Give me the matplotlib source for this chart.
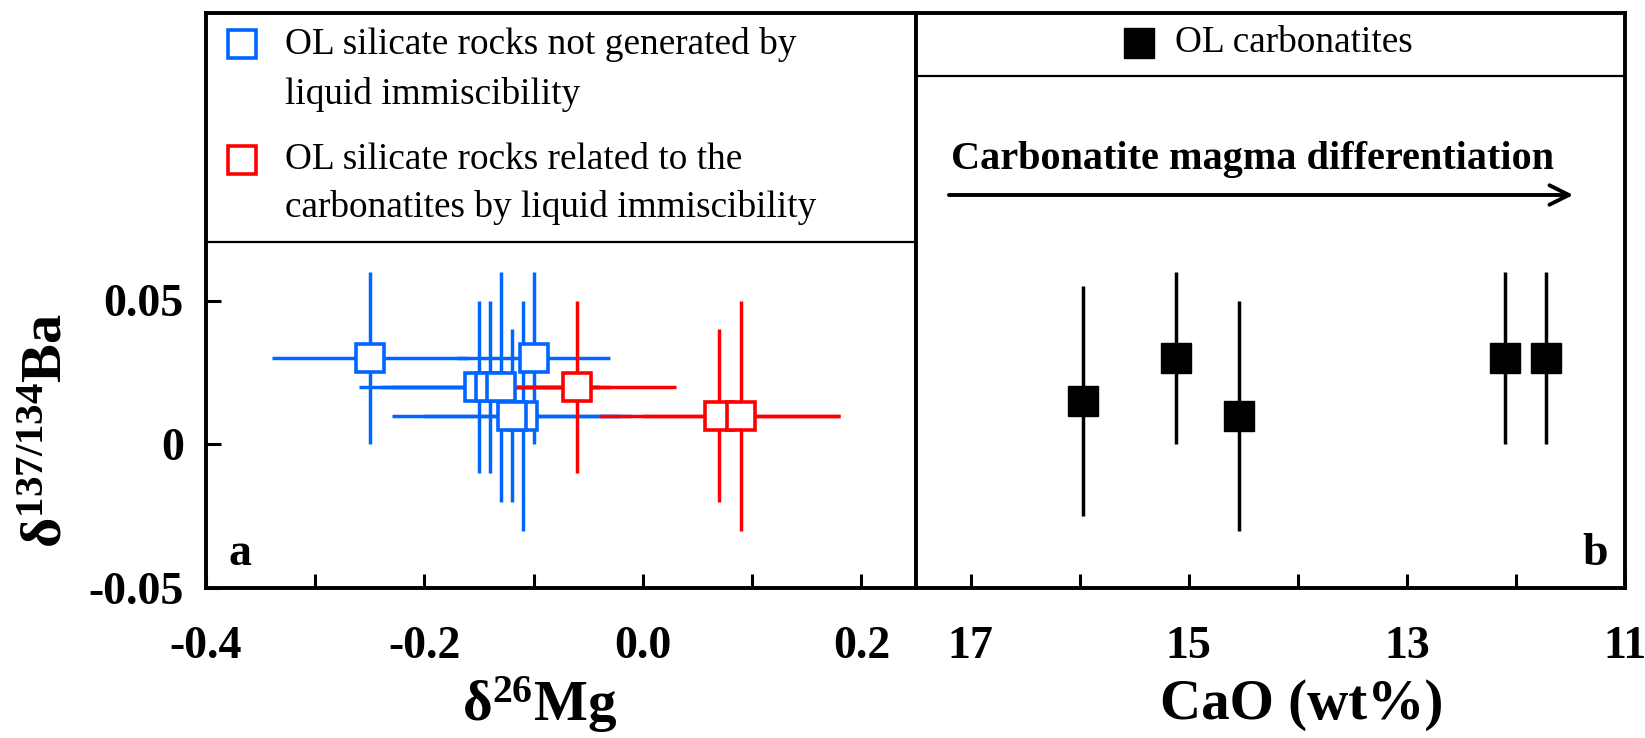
import matplotlib
matplotlib.use('Agg')
import matplotlib.pyplot as plt

plt.rcParams['font.family'] = 'serif'
plt.rcParams['font.serif'] = ['Liberation Serif', 'DejaVu Serif']
plt.rcParams['mathtext.fontset'] = 'custom'
plt.rcParams['mathtext.rm'] = 'Liberation Serif:bold'
plt.rcParams['mathtext.it'] = 'Liberation Serif:bold'
plt.rcParams['mathtext.bf'] = 'Liberation Serif:bold'
plt.rcParams['axes.unicode_minus'] = False

# ---- data ----
# panel a: silicate rocks, d26Mg vs d137/134Ba
blue_x = [-0.25, -0.10, -0.15, -0.14, -0.13, -0.11, -0.12]
blue_y = [0.03, 0.03, 0.02, 0.02, 0.02, 0.01, 0.01]
blue_xerr = [0.09, 0.07, 0.11, 0.10, 0.10, 0.09, 0.11]
blue_yerr = [0.03, 0.03, 0.03, 0.03, 0.04, 0.04, 0.03]

red_x = [-0.06, 0.07, 0.09]
red_y = [0.02, 0.01, 0.01]
red_xerr = [0.09, 0.11, 0.09]
red_yerr = [0.03, 0.03, 0.04]

# panel b: carbonatites, CaO vs d137/134Ba
cao = [15.97, 15.12, 14.54, 12.10, 11.72]
ba = [0.015, 0.03, 0.01, 0.03, 0.03]
ba_err = [0.04, 0.03, 0.04, 0.03, 0.03]

yticks = [-0.05, 0, 0.05]
ytick_labels = ['-0.05', '0', '0.05']
mg_ticks = [-0.4, -0.3, -0.2, -0.1, 0.0, 0.1, 0.2]
mg_labels = ['-0.4', '', '-0.2', '', '0.0', '', '0.2']
cao_ticks = [17, 16, 15, 14, 13, 12, 11]
cao_labels = ['17', '', '15', '', '13', '', '11']

blue = '#0066ff'
red = '#ff0000'

W, H = 1645, 738
fig = plt.figure(figsize=(W / 100, H / 100), dpi=100)
ax1 = fig.add_axes([206 / W, 1 - 588 / H, 710 / W, 575 / H])
ax2 = fig.add_axes([916 / W, 1 - 588 / H, 709 / W, 575 / H], sharey=ax1)

# error bars under markers, red bars over blue bars
ax1.errorbar(blue_x, blue_y, xerr=blue_xerr, yerr=blue_yerr, fmt='none',
             ecolor=blue, elinewidth=2.5, capsize=0, zorder=2)
ax1.errorbar(red_x, red_y, xerr=red_xerr, yerr=red_yerr, fmt='none',
             ecolor=red, elinewidth=2.5, capsize=0, zorder=3)
ax1.plot(blue_x, blue_y, 's', ms=20, mfc='white', mec=blue, mew=2.6,
         ls='none', zorder=4)
ax1.plot(red_x, red_y, 's', ms=20, mfc='white', mec=red, mew=2.6,
         ls='none', zorder=5)

ax2.errorbar(cao, ba, yerr=ba_err, fmt='none', ecolor='black',
             elinewidth=2.5, capsize=0, zorder=2)
ax2.plot(cao, ba, 's', ms=22, mfc='black', mec='black', mew=1,
         ls='none', zorder=4)

# axes limits / ticks
ax1.set_xlim(-0.4, 0.25)
ax1.set_ylim(-0.05, 0.15)
ax2.set_xlim(17.5, 11)

ax1.set_xticks(mg_ticks)
ax1.set_xticklabels(mg_labels)
ax1.set_yticks(yticks)
ax1.set_yticklabels(ytick_labels)
ax2.set_xticks(cao_ticks)
ax2.set_xticklabels(cao_labels)

for ax in (ax1, ax2):
    ax.tick_params(axis='x', direction='in', length=10, width=2.2,
                   labelsize=33, pad=27, top=False)
    for s in ax.spines.values():
        s.set_linewidth(2.8)
    for lab in ax.get_xticklabels() + ax.get_yticklabels():
        lab.set_fontweight('bold')
ax1.tick_params(axis='y', direction='in', length=11, width=2.2,
                labelsize=33, pad=16, right=False)
for lab in ax1.get_yticklabels():
    lab.set_fontweight('bold')
ax2.tick_params(axis='y', left=False, labelleft=False, right=False)

# legend boxes
ax1.axhline(0.0705, color='black', lw=1.6, zorder=6)
ax2.axhline(0.128, color='black', lw=1.6, zorder=6)

ax1.plot([0.05], [0.946], 's', transform=ax1.transAxes, ms=20,
         mfc='white', mec=blue, mew=2.6, clip_on=False)
ax1.plot([0.05], [0.745], 's', transform=ax1.transAxes, ms=20,
         mfc='white', mec=red, mew=2.6, clip_on=False)
leg_lines = ['OL silicate rocks not generated by', 'liquid immiscibility',
             'OL silicate rocks related to the',
             'carbonatites by liquid immiscibility']
leg_y = [0.946, 0.858, 0.745, 0.661]
for txt, yy in zip(leg_lines, leg_y):
    ax1.text(0.111, yy, txt, transform=ax1.transAxes, fontsize=26.8,
             ha='left', va='center')

ax2.plot([0.3145], [0.948], 's', transform=ax2.transAxes, ms=21,
         mfc='black', mec='black', clip_on=False)
ax2.text(0.365, 0.948, 'OL carbonatites', transform=ax2.transAxes,
         fontsize=26.8, ha='left', va='center')

ax2.annotate('', xy=(0.927, 0.6835), xytext=(0.0465, 0.6835),
             xycoords='axes fraction',
             arrowprops=dict(arrowstyle='->', lw=2.8, color='black',
                             mutation_scale=35, shrinkA=0, shrinkB=0))
ax2.text(0.474, 0.745, 'Carbonatite magma differentiation',
         transform=ax2.transAxes, fontsize=29, fontweight='bold',
         ha='center', va='center')

ax1.text(0.048, 0.059, 'a', transform=ax1.transAxes, fontsize=33,
         fontweight='bold', ha='center', va='center')
ax2.text(0.958, 0.059, 'b', transform=ax2.transAxes, fontsize=33,
         fontweight='bold', ha='center', va='center')

# axis titles
fig.text(48 / W, 1 - 430 / H, 'δ$^{137/134}$Ba', rotation=90, fontsize=42,
         fontweight='bold', ha='center', va='center')
fig.text(540 / W, 1 - 705 / H, 'δ$^{26}$Mg', fontsize=41,
         fontweight='bold', ha='center', va='center')
fig.text(1302 / W, 1 - 705 / H, 'CaO (wt%)', fontsize=41,
         fontweight='bold', ha='center', va='center')

fig.savefig('out.png', dpi=100)
